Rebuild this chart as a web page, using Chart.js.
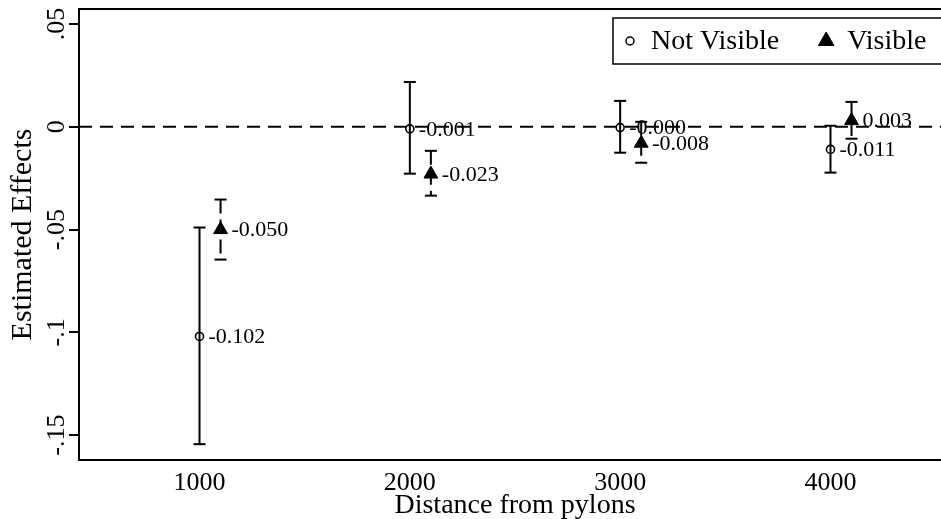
<!DOCTYPE html>
<html>
<head>
<meta charset="utf-8">
<script src="https://cdn.jsdelivr.net/npm/chart.js@4.4.0/dist/chart.umd.min.js"></script>
<style>
  html, body { margin: 0; padding: 0; background: #fff; overflow: hidden; }
  #chart_data { width: 960px; height: 519px; }
</style>
</head>
<body>
<div id="chart_data"><canvas id="chart-effects"></canvas></div>
<script>
// not visible from pylons
var distNotVis = [1000, 2000, 3000, 4000];
var estNotVis = [-0.102, -0.001, -0.0004, -0.011];
var loNotVis = [-0.1544, -0.0228, -0.0126, -0.0223];
var hiNotVis = [-0.0490, 0.0218, 0.0126, 0.0005];
var lblNotVis = ['-0.102', '-0.001', '-0.000', '-0.011'];

// visible from pylons
var distVis = [1100, 2100, 3100, 4100];
var estVis = [-0.050, -0.023, -0.008, 0.003];
var loVis = [-0.0646, -0.0335, -0.0175, -0.0058];
var hiVis = [-0.0354, -0.0117, 0.0024, 0.0121];
var lblVis = ['-0.050', '-0.023', '-0.008', '0.003'];

var xTicks = [1000, 2000, 3000, 4000];
var yTicks = [-0.15, -0.1, -0.05, 0, 0.05];
var yTickLabels = ['-.15', '-.1', '-.05', '0', '.05'];
var xMin = 427, xMax = 4573;
var yMin = -0.1621, yMax = 0.0573;

var serif = "'Liberation Serif', 'DejaVu Serif', serif";

function toPoints(xs, ys) {
  return xs.map(function (x, i) { return { x: x, y: ys[i] }; });
}
// hi -> lo pairs, split by a null so each bar is its own segment
function ciPoints(xs, lo, hi) {
  var out = [];
  xs.forEach(function (x, i) {
    out.push({ x: x, y: hi[i] }, { x: x, y: lo[i] }, { x: x, y: null });
  });
  return out;
}

var frameTop = {
  id: 'frameTop',
  afterDraw: function (chart) {
    var ctx = chart.ctx, a = chart.chartArea;
    ctx.save();
    ctx.strokeStyle = '#000';
    ctx.lineWidth = 2;
    ctx.beginPath();
    ctx.moveTo(a.left, a.top);
    ctx.lineTo(a.right, a.top);
    ctx.stroke();
    ctx.restore();
  }
};

var pointLabels = {
  id: 'pointLabels',
  afterDatasetsDraw: function (chart) {
    var ctx = chart.ctx, xs = chart.scales.x, ys = chart.scales.y;
    ctx.save();
    ctx.fillStyle = '#000';
    ctx.font = '22px ' + serif;
    ctx.textAlign = 'left';
    ctx.textBaseline = 'middle';
    distNotVis.forEach(function (d, i) {
      ctx.fillText(lblNotVis[i], xs.getPixelForValue(d) + 9, ys.getPixelForValue(estNotVis[i]) + 1);
    });
    distVis.forEach(function (d, i) {
      ctx.fillText(lblVis[i], xs.getPixelForValue(d) + 11, ys.getPixelForValue(estVis[i]) + 1);
    });
    ctx.restore();
  }
};

var boxLegend = {
  id: 'boxLegend',
  afterDraw: function (chart) {
    var ctx = chart.ctx, a = chart.chartArea;
    var left = a.right - 338, top = a.top + 9, h = 46, cy = top + h / 2;
    ctx.save();
    ctx.fillStyle = '#fff';
    ctx.strokeStyle = '#000';
    ctx.lineWidth = 1.5;
    ctx.fillRect(left, top, a.right - left + 20, h);
    ctx.strokeRect(left, top, a.right - left + 20, h);

    ctx.font = '28px ' + serif;
    ctx.textBaseline = 'middle';
    ctx.textAlign = 'left';

    var x = left + 17;
    ctx.fillStyle = 'rgba(0,0,0,0)';
    ctx.strokeStyle = '#000';
    Chart.helpers.drawPoint(ctx, { pointStyle: 'circle', radius: 4, borderWidth: 1.6 }, x, cy);
    ctx.fillStyle = '#000';
    ctx.fillText(chart.data.datasets[0].label, x + 21, cy + 1);
    x = x + 21 + ctx.measureText(chart.data.datasets[0].label).width + 47;
    ctx.lineWidth = 1;
    Chart.helpers.drawPoint(ctx, { pointStyle: 'triangle', radius: 9, borderWidth: 1 }, x, cy);
    ctx.fillText(chart.data.datasets[1].label, x + 21, cy + 1);
    ctx.restore();
  }
};

var ctx = document.getElementById('chart-effects').getContext('2d');
new Chart(ctx, {
  type: 'scatter',
  data: {
    datasets: [{
      label: 'Not Visible',
      data: toPoints(distNotVis, estNotVis),
      pointStyle: 'circle',
      pointRadius: 4,
      pointBorderWidth: 1.6,
      pointBorderColor: '#000',
      pointBackgroundColor: 'rgba(0,0,0,0)',
      order: 0
    }, {
      label: 'Visible',
      data: toPoints(distVis, estVis),
      pointStyle: 'triangle',
      pointRadius: 8,
      pointBorderWidth: 1,
      pointBorderColor: '#000',
      pointBackgroundColor: '#000',
      order: 0
    }, {
      label: 'ci not visible',
      data: ciPoints(distNotVis, loNotVis, hiNotVis),
      showLine: true,
      spanGaps: false,
      borderColor: '#000',
      borderWidth: 2,
      pointStyle: 'line',
      pointRadius: 6,
      pointBorderWidth: 2,
      pointBorderColor: '#000',
      order: 1
    }, {
      label: 'ci visible',
      data: ciPoints(distVis, loVis, hiVis),
      showLine: true,
      spanGaps: false,
      borderColor: '#000',
      borderWidth: 2,
      borderDash: [14, 6],
      pointStyle: 'line',
      pointRadius: 6,
      pointBorderWidth: 2,
      pointBorderColor: '#000',
      order: 1
    }, {
      label: 'zero',
      data: [{ x: xMin, y: 0 }, { x: xMax, y: 0 }],
      showLine: true,
      borderColor: '#000',
      borderWidth: 2,
      borderDash: [13, 8],
      pointRadius: 0,
      order: 2
    }]
  },
  options: {
    responsive: true,
    maintainAspectRatio: false,
    animation: false,
    events: [],
    layout: { padding: { top: 8, right: 7, left: 0, bottom: 0 } },
    plugins: {
      legend: { display: false },
      tooltip: { enabled: false }
    },
    scales: {
      x: {
        type: 'linear',
        min: xMin,
        max: xMax,
        afterBuildTicks: function (s) { s.ticks = xTicks.map(function (v) { return { value: v }; }); },
        afterFit: function (s) { s.height = 59; s.paddingLeft = 0; s.paddingRight = 0; },
        grid: { display: false, drawTicks: false },
        border: { display: true, color: '#000', width: 2 },
        ticks: {
          padding: 8,
          maxRotation: 0,
          autoSkip: false,
          color: '#000',
          font: { family: serif, size: 26 },
          callback: function (v, i) { return String(xTicks[i]); }
        },
        title: {
          display: true,
          text: 'Distance from pylons',
          color: '#000',
          font: { family: serif, size: 28 },
          padding: { top: 0, bottom: -3 }
        }
      },
      y: {
        min: yMin,
        max: yMax,
        afterBuildTicks: function (s) { s.ticks = yTicks.map(function (v) { return { value: v }; }); },
        afterFit: function (s) { s.width = 79; s.paddingTop = 0; s.paddingBottom = 0; },
        grid: { display: true, drawOnChartArea: false, drawTicks: true, tickLength: 10, color: '#000', lineWidth: 2 },
        border: { display: true, color: '#000', width: 2 },
        ticks: {
          minRotation: 90,
          maxRotation: 90,
          crossAlign: 'center',
          padding: -9,
          color: '#000',
          font: { family: serif, size: 26 },
          callback: function (v, i) { return yTickLabels[i]; }
        },
        title: {
          display: true,
          text: 'Estimated Effects',
          color: '#000',
          font: { family: serif, size: 30 },
          padding: { top: 5, bottom: 0 }
        }
      }
    }
  },
  plugins: [frameTop, pointLabels, boxLegend]
});
</script>
</body>
</html>
